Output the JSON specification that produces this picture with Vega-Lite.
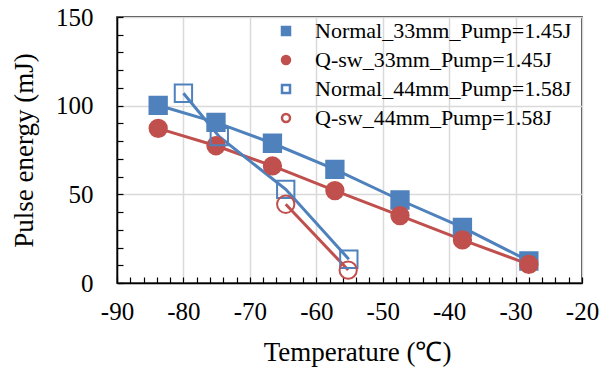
{
  "$schema": "https://vega.github.io/schema/vega-lite/v6.json",
  "width": 465,
  "height": 266,
  "autosize": {"type": "none"},
  "padding": {"left": 117, "top": 17, "right": 29, "bottom": 84},
  "background": "white",
  "config": {
    "font": "Liberation Serif",
    "view": {"stroke": "#000000", "strokeWidth": 1.5},
    "axis": {
      "domainColor": "#000000",
      "domainWidth": 1.5,
      "gridColor": "#d9d9d9",
      "gridWidth": 1.5,
      "tickColor": "#000000",
      "tickSize": -6,
      "tickWidth": 1.2,
      "labelFont": "Liberation Serif",
      "labelFontSize": 25,
      "labelColor": "#000000",
      "titleFont": "Liberation Serif",
      "titleFontSize": 27,
      "titleFontWeight": "normal",
      "titleColor": "#000000"
    },
    "legend": {
      "labelFont": "Liberation Serif",
      "labelFontSize": 22,
      "labelColor": "#000000",
      "labelLimit": 400,
      "orient": "none",
      "legendX": 144,
      "legendY": 3,
      "padding": 0,
      "symbolSize": 64,
      "symbolStrokeWidth": 2.5,
      "symbolOffset": 14,
      "labelOffset": 18,
      "rowPadding": 7
    }
  },
  "data": {
    "values": [
      {"series": "Normal_33mm_Pump=1.45J", "t": -83.8, "e": 100.2},
      {"series": "Normal_33mm_Pump=1.45J", "t": -75.1, "e": 90.6},
      {"series": "Normal_33mm_Pump=1.45J", "t": -66.6, "e": 78.8},
      {"series": "Normal_33mm_Pump=1.45J", "t": -57.2, "e": 64.1},
      {"series": "Normal_33mm_Pump=1.45J", "t": -47.4, "e": 46.8},
      {"series": "Normal_33mm_Pump=1.45J", "t": -38.0, "e": 31.4},
      {"series": "Normal_33mm_Pump=1.45J", "t": -28.0, "e": 12.4},
      {"series": "Q-sw_33mm_Pump=1.45J", "t": -83.8, "e": 87.2},
      {"series": "Q-sw_33mm_Pump=1.45J", "t": -75.1, "e": 77.4},
      {"series": "Q-sw_33mm_Pump=1.45J", "t": -66.6, "e": 66.0},
      {"series": "Q-sw_33mm_Pump=1.45J", "t": -57.2, "e": 52.1},
      {"series": "Q-sw_33mm_Pump=1.45J", "t": -47.4, "e": 38.0},
      {"series": "Q-sw_33mm_Pump=1.45J", "t": -38.0, "e": 24.3},
      {"series": "Q-sw_33mm_Pump=1.45J", "t": -28.0, "e": 10.5},
      {"series": "Normal_44mm_Pump=1.58J", "t": -80.0, "e": 107.0},
      {"series": "Normal_44mm_Pump=1.58J", "t": -74.6, "e": 82.5},
      {"series": "Normal_44mm_Pump=1.58J", "t": -64.6, "e": 52.8},
      {"series": "Normal_44mm_Pump=1.58J", "t": -55.1, "e": 13.4},
      {"series": "Q-sw_44mm_Pump=1.58J", "t": -64.6, "e": 44.4},
      {"series": "Q-sw_44mm_Pump=1.58J", "t": -55.2, "e": 7.3}
    ]
  },
  "layer": [
    {
      "mark": {"type": "line", "strokeWidth": 3},
      "encoding": {
        "x": {
          "field": "t",
          "type": "quantitative",
          "title": "Temperature (℃)",
          "scale": {"domain": [-90, -20], "nice": false, "zero": false},
          "axis": {
            "values": [-90,-88,-86,-84,-82,-80,-78,-76,-74,-72,-70,-68,-66,-64,-62,-60,-58,-56,-54,-52,-50,-48,-46,-44,-42,-40,-38,-36,-34,-32,-30,-28,-26,-24,-22,-20],
            "tickCount": 200,
            "labelExpr": "datum.value % 10 === 0 ? toString(datum.value) : ''",
            "gridOpacity": {"condition": {"test": "datum.value % 10 === 0", "value": 1}, "value": 0},
            "labelPadding": 22,
            "titlePadding": 15,
            "titleX": 240,
            "labelFlush": false,
            "labelOverlap": false
          }
        },
        "y": {
          "field": "e",
          "type": "quantitative",
          "title": "Pulse energy (mJ)",
          "scale": {"domain": [0, 150], "nice": false},
          "axis": {
            "values": [0,10,20,30,40,50,60,70,80,90,100,110,120,130,140,150],
            "tickCount": 200,
            "labelExpr": "datum.value % 50 === 0 ? toString(datum.value) : ''",
            "gridOpacity": {"condition": {"test": "datum.value % 50 === 0", "value": 1}, "value": 0},
            "labelPadding": 30,
            "titlePadding": 17,
            "labelFlush": false,
            "labelOverlap": false
          }
        },
        "stroke": {
          "field": "series",
          "type": "nominal",
          "scale": {
            "domain": ["Normal_33mm_Pump=1.45J", "Q-sw_33mm_Pump=1.45J", "Normal_44mm_Pump=1.58J", "Q-sw_44mm_Pump=1.58J"],
            "range": ["#4f81bd", "#c0504d", "#4f81bd", "#c0504d"]
          },
          "legend": {"title": null}
        }
      }
    },
    {
      "mark": {"type": "point", "filled": true, "opacity": 1, "size": 300, "strokeWidth": 2},
      "encoding": {
        "x": {"field": "t", "type": "quantitative"},
        "y": {"field": "e", "type": "quantitative"},
        "shape": {
          "field": "series",
          "type": "nominal",
          "scale": {
            "domain": ["Normal_33mm_Pump=1.45J", "Q-sw_33mm_Pump=1.45J", "Normal_44mm_Pump=1.58J", "Q-sw_44mm_Pump=1.58J"],
            "range": ["square", "circle", "square", "circle"]
          },
          "legend": {"title": null}
        },
        "fill": {
          "field": "series",
          "type": "nominal",
          "scale": {
            "domain": ["Normal_33mm_Pump=1.45J", "Q-sw_33mm_Pump=1.45J", "Normal_44mm_Pump=1.58J", "Q-sw_44mm_Pump=1.58J"],
            "range": ["#4f81bd", "#c0504d", "transparent", "transparent"]
          },
          "legend": {"title": null}
        },
        "stroke": {"field": "series", "type": "nominal"}
      }
    }
  ]
}
